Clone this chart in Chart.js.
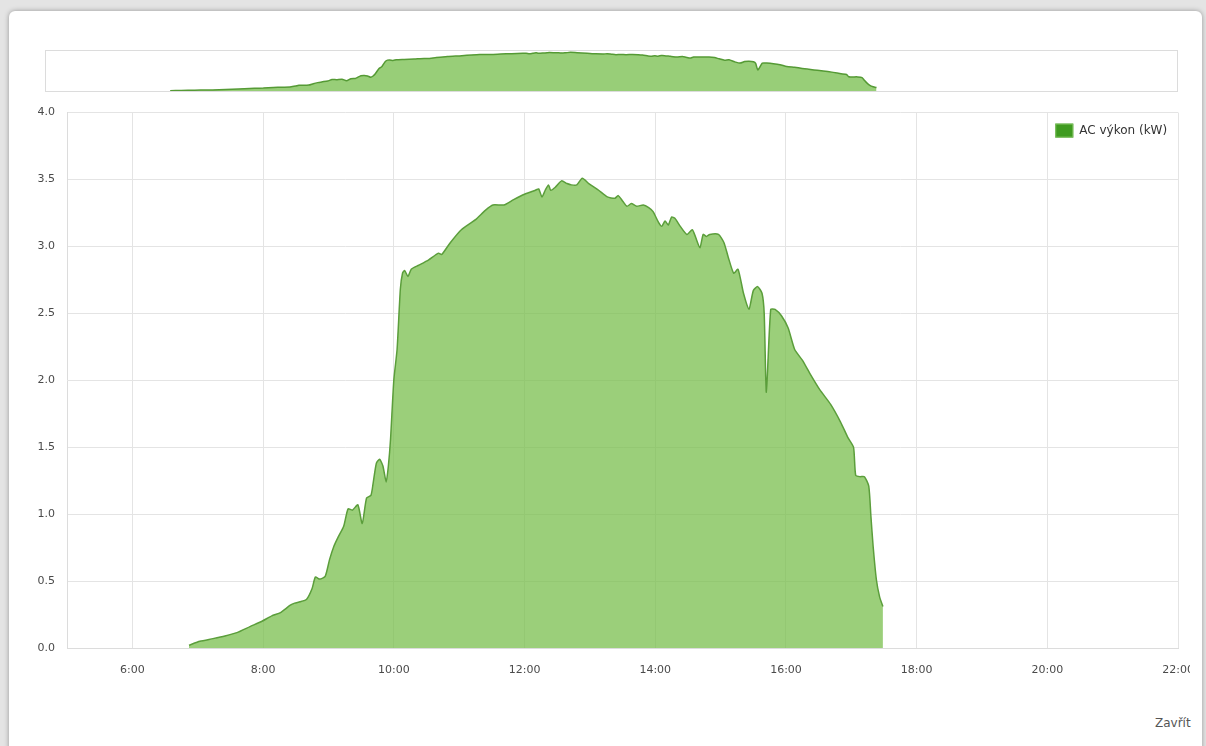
<!DOCTYPE html>
<html>
<head>
<meta charset="utf-8">
<script src="https://cdn.jsdelivr.net/npm/chart.js@4.4.0/dist/chart.umd.min.js"></script>
<style>
html,body{margin:0;padding:0;}
body{width:1206px;height:746px;background:#e4e4e4;position:relative;overflow:hidden;font-family:"DejaVu Sans",sans-serif;}
#panel{position:absolute;left:9px;top:11px;width:1193px;height:745px;background:#fff;border-radius:6px;box-shadow:0 0 5px rgba(0,0,0,0.35);}
#navWrap{position:absolute;left:45px;top:50px;width:1131px;height:40px;border:1px solid #dcdcdc;}
#navWrap canvas{display:block;}
#mainWrap{position:absolute;left:0;top:94px;width:1190px;height:610px;overflow:hidden;}
#mainWrap canvas{display:block;}
#close{position:absolute;left:1155px;top:716px;font-size:12px;color:#555;}
</style>
</head>
<body>
<div id="panel"></div>
<div id="navWrap"><canvas id="nav" width="1131" height="40"></canvas></div>
<div id="mainWrap"><canvas id="main" width="1210" height="596"></canvas></div>
<div id="close">Zavřít</div>
<script>
// ---- data ----
const seriesLabel = "AC výkon (kW)";
const times = ["6:52","7:02","7:14","7:25","7:36","7:48","7:59","8:08","8:16","8:25","8:29","8:34","8:40","8:45","8:48","8:52","8:57",
"9:01","9:05","9:09","9:14","9:18","9:22","9:27","9:31","9:35","9:39","9:41","9:44","9:47","9:50","9:53","9:55","9:57",
"10:00","10:03","10:06","10:08","10:10","10:13","10:16","10:23","10:32","10:41","10:44","10:52",
"11:02","11:15","11:24","11:31","11:41","11:50",
"12:00","12:10","12:13","12:16","12:19","12:22","12:24","12:28","12:34","12:39","12:43","12:48","12:53","12:59",
"13:08","13:16","13:23","13:26","13:30","13:34","13:38","13:43","13:49","13:54","13:58",
"14:03","14:06","14:09","14:12","14:15","14:18","14:23","14:29","14:34","14:37","14:41","14:44","14:47","14:50","14:58",
"15:03","15:07","15:12","15:16","15:21","15:26","15:30","15:34","15:38","15:40","15:42","15:46","15:50","15:56",
"16:02","16:08","16:15","16:22","16:31","16:41","16:50","16:57",
"17:02","17:04","17:08","17:12","17:16","17:18","17:20","17:23","17:26","17:29"];
const acPower = [0.02,0.05,0.07,0.09,0.115,0.16,0.20,0.24,0.265,0.32,0.335,0.345,0.365,0.445,0.53,0.515,0.535,
0.66,0.76,0.83,0.91,1.04,1.03,1.07,0.93,1.12,1.14,1.23,1.38,1.41,1.36,1.24,1.36,1.56,
2.0,2.23,2.68,2.80,2.82,2.775,2.83,2.86,2.90,2.95,2.94,3.03,
3.125,3.20,3.27,3.31,3.31,3.35,
3.39,3.42,3.43,3.37,3.42,3.46,3.42,3.44,3.49,3.47,3.46,3.46,3.51,3.47,
3.42,3.37,3.36,3.38,3.34,3.30,3.32,3.30,3.31,3.29,3.26,
3.18,3.15,3.19,3.16,3.22,3.21,3.15,3.09,3.125,3.07,2.99,3.09,3.075,3.09,3.09,
3.03,2.92,2.80,2.83,2.65,2.53,2.67,2.70,2.65,2.50,1.91,2.53,2.53,2.48,
2.39,2.23,2.15,2.05,1.93,1.82,1.69,1.57,
1.50,1.29,1.28,1.28,1.21,0.98,0.76,0.51,0.38,0.31];
const xTickHours = [6,8,10,12,14,16,18,20,22];
const yTickValues = [0,0.5,1,1.5,2,2.5,3,3.5,4];

// ---- build ----
function toHours(t){const p=t.split(':');return +p[0] + (+p[1])/60;}
const points = times.map((t,i)=>({x:toHours(t), y:acPower[i]}));
const fillCol = 'rgba(122,191,78,0.75)';
const lineCol = '#5b9e3b';
const tickFont = {family:'"DejaVu Sans", sans-serif', size:11};

const insideLegend = {
  id:'insideLegend',
  afterDraw(chart){
    const {ctx, chartArea} = chart;
    const label = chart.data.datasets[0].label;
    ctx.save();
    ctx.font = '12px "DejaVu Sans", sans-serif';
    const tw = ctx.measureText(label).width;
    const x0 = chartArea.right - 11 - tw - 24;
    const y0 = chartArea.top + 11;
    ctx.fillStyle = '#3f9b20';
    ctx.fillRect(x0, y0, 18, 14);
    ctx.strokeStyle = '#7fc060';
    ctx.lineWidth = 1;
    ctx.strokeRect(x0+0.5, y0+0.5, 17, 13);
    ctx.fillStyle = '#333';
    ctx.textBaseline = 'middle';
    ctx.fillText(label, x0 + 24, y0 + 7);
    ctx.restore();
  }
};

new Chart(document.getElementById('main'), {
  type:'line',
  data:{datasets:[{label:seriesLabel, data:points, borderColor:lineCol, borderWidth:1.5,
    backgroundColor:fillCol, fill:'origin', pointRadius:0, tension:0.2}]},
  options:{
    responsive:false, animation:false,
    layout:{padding:{top:6,left:0,right:0,bottom:0}},
    plugins:{legend:{display:false}, tooltip:{enabled:false}},
    scales:{
      x:{type:'linear', min:5, max:22,
        afterBuildTicks:s=>{s.ticks = xTickHours.map(v=>({value:v}));},
        afterFit:s=>{s.height = 42;},
        grid:{color:'#e4e4e4', drawTicks:false},
        border:{color:'#dcdcdc'},
        ticks:{padding:16, color:'#4a4a4a', font:tickFont, maxRotation:0, autoSkip:false,
          callback:v=>v+':00'}},
      y:{min:0, max:4,
        afterBuildTicks:s=>{s.ticks = yTickValues.map(v=>({value:v}));},
        afterFit:s=>{s.width = 67;},
        grid:{color:'#e4e4e4', drawTicks:false},
        border:{color:'#dcdcdc'},
        ticks:{padding:12, color:'#4a4a4a', font:tickFont, callback:v=>Number(v).toFixed(1)}}
    }
  },
  plugins:[insideLegend]
});

new Chart(document.getElementById('nav'), {
  type:'line',
  data:{datasets:[{label:seriesLabel, data:points, borderColor:'#559a35', borderWidth:1.5,
    backgroundColor:'rgb(152,206,120)', fill:'origin', pointRadius:0, tension:0.2}]},
  options:{
    responsive:false, animation:false,
    layout:{padding:0},
    plugins:{legend:{display:false}, tooltip:{enabled:false}},
    scales:{
      x:{type:'linear', min:5, max:22, display:false},
      y:{min:0, max:3.63, display:false}
    }
  }
});
</script>
</body>
</html>
